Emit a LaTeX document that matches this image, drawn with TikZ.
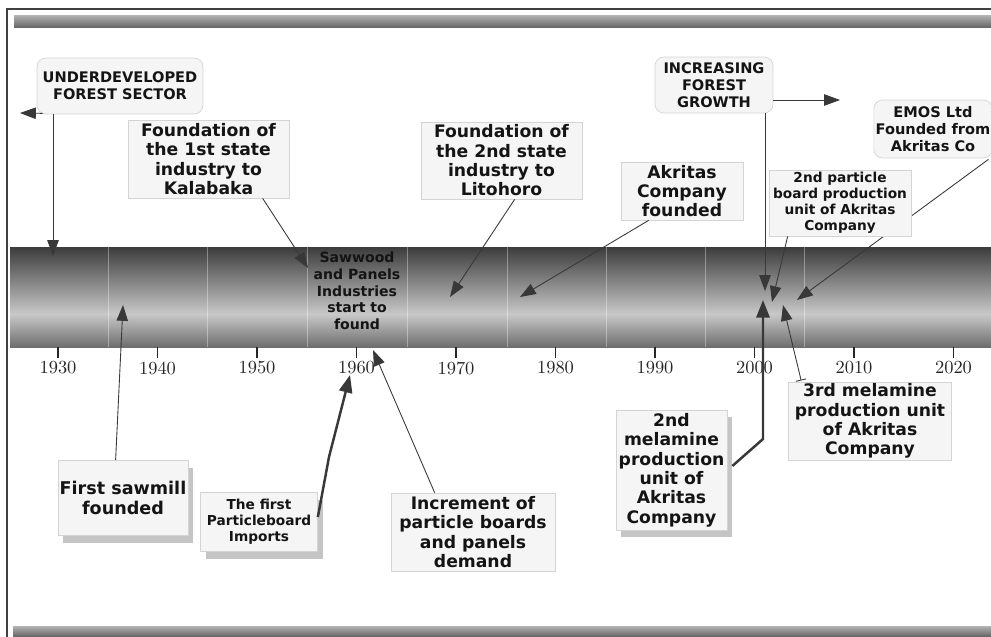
\documentclass[tikz,border=0pt]{standalone}
\usepackage{fontspec}
\newfontfamily\boxfont{DejaVu Sans}
\usetikzlibrary{arrows.meta,calc,shadows}
\definecolor{tlbox}{HTML}{F5F5F5}
\definecolor{tledge}{HTML}{D4D4D4}
\definecolor{tlink}{HTML}{383838}
\definecolor{tldark}{HTML}{3C3C3C}
\definecolor{tllight}{HTML}{C8C8C8}
\definecolor{tlbottom}{HTML}{6E6E6E}
\definecolor{railtop}{HTML}{B4B4B4}
\definecolor{railbot}{HTML}{686868}
\newlength\pxu
\setlength\pxu{0.02cm}
\tikzset{
  evbox/.style={draw=tledge, fill=tlbox, align=center, inner sep=1pt, text=black!92,
    font=\boxfont\bfseries\fontsize{9.8}{11}\selectfont},
  evround/.style={evbox, rounded corners=5pt},
  shadowed/.style={drop shadow={shadow xshift=3pt, shadow yshift=-4pt, fill=black!45}},
  smallfont/.style={font=\boxfont\bfseries\fontsize{7.8}{9.2}\selectfont},
  capsfont/.style={font=\boxfont\bfseries\fontsize{8.3}{9.7}\selectfont},
  link/.style={draw=tlink, line width=0.5pt, -{Triangle[length=9pt,width=6.5pt]}},
  boldlink/.style={draw=tlink, line width=1.4pt, -{Triangle[length=10pt,width=7.5pt]}},
  tickmark/.style={line width=1.1pt, black!85},
  yearlbl/.style={font=\fontsize{10.5}{12}\selectfont, text=black!85},
}

\begin{document}
\begin{tikzpicture}[x=0.02cm, y=-0.02cm]
  \useasboundingbox (0,0) rectangle (991,636);
  % Frame and rails
  \draw[black!75, line width=0.6pt] (7,640) -- (7,9) -- (995,9);
  \shade[top color=railtop, bottom color=railbot] (14,15) rectangle (991,27);
  \shade[top color=railtop, bottom color=railbot] (13,626) rectangle (991,636);
  % Time band
  \shade[top color=tldark, bottom color=tllight] (10,247) rectangle (991,314);
  \shade[top color=tllight, bottom color=tlbottom] (10,314) rectangle (991,347);
  \foreach \sx in {108,207,307,407,507,606,705,804}
    \draw[white, opacity=0.35, line width=0.4pt] (\sx,247) -- (\sx,347);
  % Years
  \foreach \yr in {1930,1940,...,2020} {
    \draw[tickmark] ({58+9.95*(\yr-1930)},347) -- ++(0,11);
    \node[yearlbl] (y\yr) at ({58+9.95*(\yr-1930)},368) {\yr};
  }
  % Underdeveloped sector
  \node[evround, capsfont, minimum width=166\pxu, minimum height=56\pxu] (nUnder) at (120,86) {UNDERDEVELOPED\\FOREST SECTOR};
  \coordinate (uLeft) at (20,113);
  \coordinate (uDown) at (53,256);
  \draw[link] ($(nUnder.south west)+(6,-1)$) -- (uLeft);
  \draw[link] (nUnder.south -| uDown) -- (uDown);
  % 1st state industry
  \node[evbox, minimum width=161\pxu, minimum height=78\pxu] (nKala) at (208.5,159) {Foundation of\\the 1st state\\industry to\\Kalabaka};
  \coordinate (kTip) at (308,268);
  \draw[link] ($(nKala.south west)+(135,0)$) -- (kTip);
  % 2nd state industry
  \node[evbox, minimum width=161\pxu, minimum height=77\pxu] (nLito) at (501.5,160.5) {Foundation of\\the 2nd state\\industry to\\Litohoro};
  \coordinate (lTip) at (450,297);
  \draw[link] ($(nLito.south west)+(94,0)$) -- (lTip);
  % Sawwood and panels
  \node[align=center, text=black!92, font=\boxfont\bfseries\fontsize{8}{9.5}\selectfont] (nSaw) at (357,291) {Sawwood\\and Panels\\Industries\\start to\\found};
  % Akritas founded
  \node[evbox, minimum width=122\pxu, minimum height=58\pxu] (nAkr) at (682,191) {Akritas\\Company\\founded};
  \coordinate (aTip) at (520,297);
  \draw[link] ($(nAkr.south west)+(28,0)$) -- (aTip);
  % Forest growth
  \node[evround, capsfont, minimum width=118\pxu, minimum height=56\pxu] (nGrow) at (714,85) {INCREASING\\FOREST\\GROWTH};
  \coordinate (gRight) at (840,100);
  \coordinate (gDown) at (765,291);
  \draw[link] ($(nGrow.east)+(0,15)$) -- (gRight);
  \draw[link] (nGrow.south -| gDown) -- (gDown);
  % EMOS
  \node[evround, capsfont, minimum width=118\pxu, minimum height=58\pxu] (nEmos) at (933,129) {EMOS Ltd\\Founded from\\Akritas Co};
  \coordinate (eTip) at (797,300);
  \draw[link] ($(nEmos.south east)+(-4,1)$) -- (eTip);
  % 2nd particle board unit
  \node[evbox, smallfont, minimum width=142\pxu, minimum height=66\pxu] (nPart) at (840,203) {2nd particle\\board production\\unit of Akritas\\Company};
  \coordinate (pTip) at (772,302);
  \draw[link] ($(nPart.south west)+(19,0)$) -- (pTip);
  % First sawmill
  \node[evbox, shadowed, font=\boxfont\bfseries\fontsize{10}{11}\selectfont, minimum width=130\pxu, minimum height=75\pxu] (nMill) at (123,498) {First sawmill\\founded};
  \coordinate (fTip) at (123,305);
  \draw[link] ($(nMill.north west)+(58,0)$) -- (fTip);
  % Particleboard imports
  \node[evbox, shadowed, smallfont, minimum width=117\pxu, minimum height=59\pxu] (nImp) at (259,522) {The first\\Particleboard\\Imports};
  \coordinate (iBend) at (329,457);
  \coordinate (iTip) at (350,375);
  \draw[boldlink] ($(nImp.east)+(0,-5)$) -- (iBend) -- (iTip);
  % Demand increment
  \node[evbox, minimum width=164\pxu, minimum height=78\pxu] (nDem) at (473,532) {Increment of\\particle boards\\and panels\\demand};
  \coordinate (dTip) at (373,350);
  \draw[link] ($(nDem.north west)+(44,0)$) -- (dTip);
  % 2nd melamine unit
  \node[evbox, shadowed, minimum width=111\pxu, minimum height=120\pxu] (nMel2) at (671.5,470) {2nd\\melamine\\production\\unit of\\Akritas\\Company};
  \coordinate (mBend) at (763,439);
  \coordinate (mTip) at (763,300);
  \draw[boldlink] ($(nMel2.east)+(5,-4)$) -- (mBend) -- (mTip);
  % 3rd melamine unit
  \node[evbox, minimum width=163\pxu, minimum height=78\pxu] (nMel3) at (870,421) {3rd melamine\\production unit\\of Akritas\\Company};
  \coordinate (tTip) at (783,305);
  \draw[link, {Bar[width=6pt]}-{Triangle[length=9pt,width=6.5pt]}] ($(nMel3.north west)+(13,-1)$) -- (tTip);
\end{tikzpicture}
\end{document}
